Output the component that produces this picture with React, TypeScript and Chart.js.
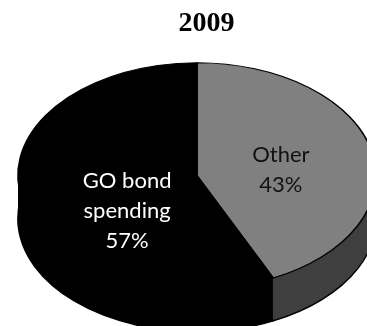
import React, { useEffect, useRef } from 'react';
import { Chart, registerables } from 'chart.js';

Chart.register(...registerables);

// ---- data ----
const TITLE = '2009';
const CATEGORIES = ['Other', 'GO bond spending'];
const CATEGORY_LINES = [['Other'], ['GO bond', 'spending']];
const VALUES = [43, 57];

// ---- styles ----
const TOP_COLORS = ['#808080', '#000000'];
const SIDE_COLORS = ['#404040', '#000000'];
const LABEL_COLORS = ['#111111', '#ffffff'];
const LABEL_RADIUS = [0.48, 0.4];
const LABEL_DY = [5, 24];
const LABEL_FONT_SIZE = 22;
const LABEL_LINE_H = 30;
const LABEL_CAP = 16;

const PIE_RX = 179;
const PIE_RY = 113;
const PIE_DEPTH = 42;
const SHIFT_X = -9.5;
const SHIFT_Y = 0;
const BORDER_W = 1.2;

const pie3d = {
  id: 'pie3d',
  beforeDatasetsDraw(chart: any) {
    const ctx = chart.ctx;
    const arcs = chart.getDatasetMeta(0).data;
    ctx.save();
    if (!arcs.length) return;
    const { x: cx, y: cy, outerRadius: r } = arcs[0];
    const sx = PIE_RX / r;
    const sy = PIE_RY / r;
    const apply = (dy: number) => {
      ctx.translate(cx + SHIFT_X, cy + SHIFT_Y + dy);
      ctx.scale(sx, sy);
      ctx.translate(-cx, -cy);
    };
    for (let k = PIE_DEPTH + 1; k >= 1; k--) {
      ctx.save();
      apply(k);
      arcs.forEach((arc: any, i: number) => {
        const saved = arc.options;
        const outline = k === PIE_DEPTH + 1;
        arc.options = {
          ...saved,
          backgroundColor: outline ? '#000000' : SIDE_COLORS[i],
          borderColor: '#000000',
          borderWidth: outline ? BORDER_W : 0,
        };
        arc.draw(ctx);
        arc.options = saved;
      });
      ctx.restore();
    }
    apply(0);
  },
  afterDatasetsDraw(chart: any) {
    const ctx = chart.ctx;
    ctx.restore();
    const arcs = chart.getDatasetMeta(0).data;
    if (!arcs.length) return;
    const { x: cx, y: cy, outerRadius: r } = arcs[0];
    const total = VALUES.reduce((a, b) => a + b, 0);
    ctx.save();
    ctx.font = `${LABEL_FONT_SIZE}px Lato, 'Open Sans', sans-serif`;
    ctx.textAlign = 'center';
    ctx.textBaseline = 'alphabetic';
    arcs.forEach((arc: any, i: number) => {
      const mid = (arc.startAngle + arc.endAngle) / 2;
      const px = cx + SHIFT_X + Math.cos(mid) * r * LABEL_RADIUS[i] * (PIE_RX / r);
      const py = cy + SHIFT_Y + Math.sin(mid) * r * LABEL_RADIUS[i] * (PIE_RY / r) + LABEL_DY[i];
      const lines = [...CATEGORY_LINES[i], Math.round((VALUES[i] / total) * 100) + '%'];
      ctx.fillStyle = LABEL_COLORS[i];
      lines.forEach((t, j) => {
        const by = py + (j - (lines.length - 1) / 2) * LABEL_LINE_H + LABEL_CAP / 2;
        ctx.fillText(t, px, by);
      });
    });
    ctx.restore();
  },
};

export default function App() {
  const ref = useRef<HTMLCanvasElement | null>(null);
  useEffect(() => {
    if (!ref.current) return;
    const chart = new Chart(ref.current, {
      type: 'pie',
      data: {
        labels: CATEGORIES,
        datasets: [
          {
            data: VALUES,
            backgroundColor: TOP_COLORS,
            borderColor: '#000000',
            borderWidth: BORDER_W,
            clip: false as any,
          },
        ],
      },
      options: {
        responsive: false,
        animation: false,
        events: [],
        layout: { padding: { left: 46, right: 0, top: 0, bottom: 25 } },
        plugins: {
          legend: { display: false },
          tooltip: { enabled: false },
          title: {
            display: true,
            text: TITLE,
            color: '#000000',
            font: { family: "'Liberation Serif', 'Times New Roman', serif", size: 28, weight: 'bold' },
            padding: { top: 7, bottom: 10 },
          },
        },
      },
      plugins: [pie3d],
    });
    return () => chart.destroy();
  }, []);
  return (
    <div style={{ position: 'absolute', left: 0, top: 0, width: 367, height: 326, overflow: 'hidden', background: '#fff' }}>
      <canvas ref={ref} width={367} height={326} style={{ display: 'block' }} />
    </div>
  );
}
